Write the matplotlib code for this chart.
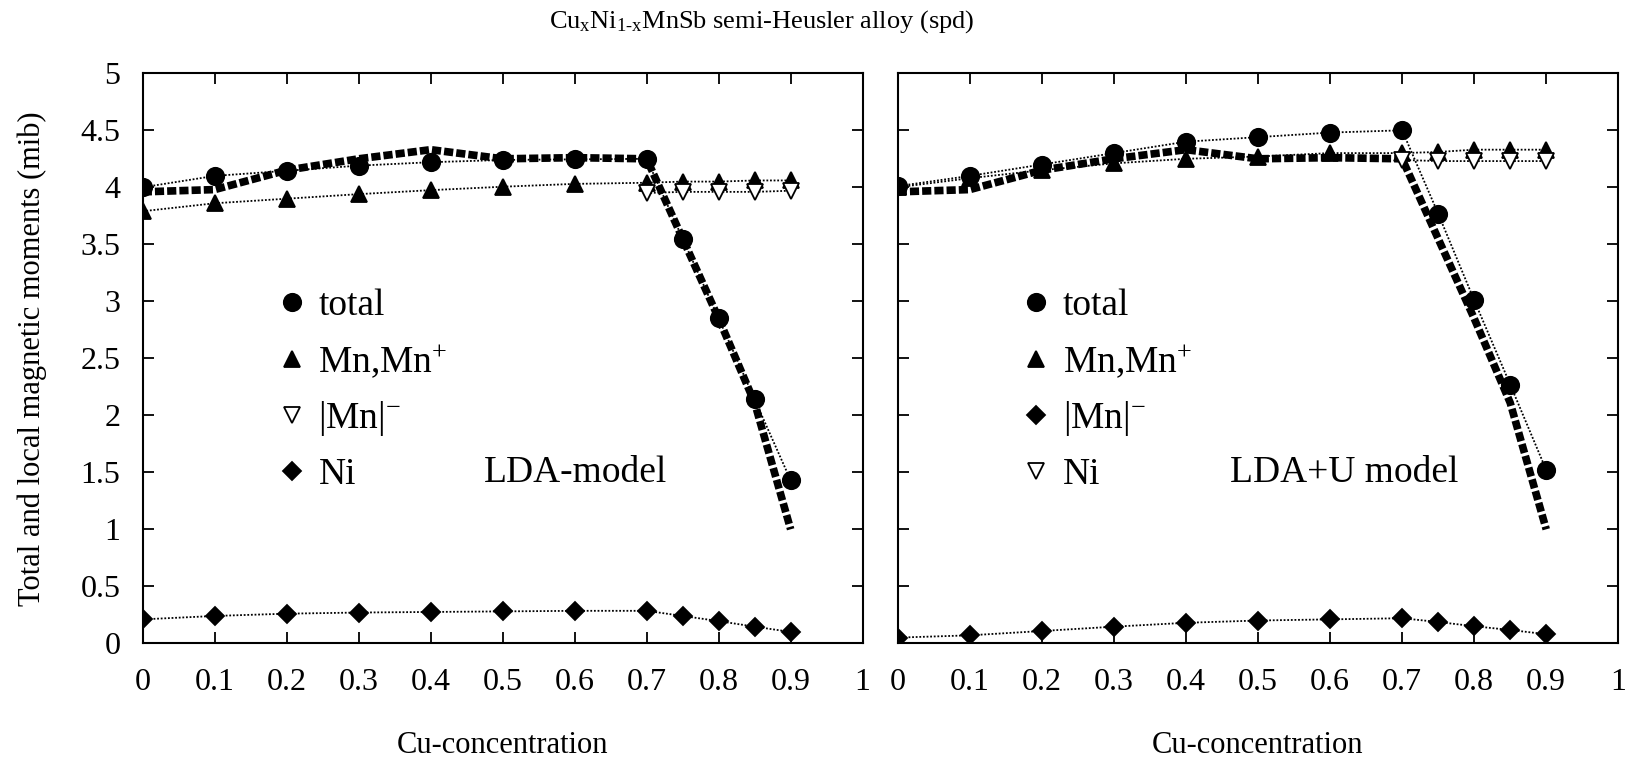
import numpy as np
import matplotlib
matplotlib.use('Agg')
import matplotlib.pyplot as plt

plt.rcParams['font.family'] = ['Liberation Serif', 'DejaVu Serif']
plt.rcParams['mathtext.fontset'] = 'custom'
plt.rcParams['mathtext.rm'] = 'Liberation Serif'
plt.rcParams['mathtext.it'] = 'Liberation Serif:italic'

#
#  Data
#
x = [0, 0.1, 0.2, 0.3, 0.4, 0.5, 0.6, 0.7, 0.75, 0.8, 0.85, 0.9]
x_tail = [0.7, 0.75, 0.8, 0.85, 0.9]

# reference curve (thick dashed), same in both panels
ref_curve = [3.96, 3.98, 4.15, 4.25, 4.33, 4.25, 4.26, 4.25, 3.55, 2.85, 2.11, 1.0]

# LDA model
lda_total = [4.00, 4.10, 4.145, 4.19, 4.22, 4.24, 4.245, 4.25, 3.55, 2.85, 2.14, 1.43]
lda_mn = [3.79, 3.86, 3.90, 3.94, 3.975, 4.005, 4.03, 4.04, 4.05, 4.05, 4.06, 4.06]
lda_mn_neg = [3.95, 3.96, 3.96, 3.96, 3.97]
lda_ni = [0.21, 0.24, 0.26, 0.27, 0.275, 0.28, 0.285, 0.285, 0.24, 0.195, 0.146, 0.10]

# LDA+U model
ldau_total = [4.01, 4.10, 4.20, 4.30, 4.40, 4.44, 4.48, 4.50, 3.77, 3.01, 2.27, 1.52]
ldau_mn = [4.00, 4.08, 4.15, 4.21, 4.25, 4.27, 4.30, 4.30, 4.31, 4.33, 4.33, 4.33]
ldau_ni = [4.24, 4.23, 4.23, 4.23, 4.23]
ldau_mn_neg = [0.05, 0.07, 0.108, 0.146, 0.18, 0.20, 0.21, 0.22, 0.187, 0.15, 0.117, 0.08]

xticks = [0, 0.1, 0.2, 0.3, 0.4, 0.5, 0.6, 0.7, 0.8, 0.9, 1.0]
xtick_labels = ['0', '0.1', '0.2', '0.3', '0.4', '0.5', '0.6', '0.7', '0.8', '0.9', '1']
yticks = [0, 0.5, 1, 1.5, 2, 2.5, 3, 3.5, 4, 4.5, 5]
ytick_labels = ['0', '0.5', '1', '1.5', '2', '2.5', '3', '3.5', '4', '4.5', '5']

dot = (0, (1, 1))
dash = (0, (1.2, 0.4))
ms_c = 12.5
ms_t = 12
ms_d = 9.5


def style_axes(ax, show_ylabels):
    ax.set_xlim(0, 1)
    ax.set_ylim(0, 5)
    ax.set_xticks(xticks)
    ax.set_xticklabels(xtick_labels)
    ax.set_yticks(yticks)
    ax.set_yticklabels(ytick_labels if show_ylabels else [])
    ax.tick_params(direction='in', length=8, width=1.3, top=True, right=True,
                   labelsize=23, pad=18)
    ax.tick_params(axis='y', pad=16)
    for s in ax.spines.values():
        s.set_linewidth(1.5)
    ax.set_xlabel('Cu-concentration', fontsize=22, labelpad=24)


def draw_panel(ax, total, mn, third, third_x, fourth, fourth_x, labels, third_mk, fourth_mk):
    ax.plot(x, ref_curve, color='black', lw=5.5, linestyle=dash, dash_capstyle='butt', zorder=2)

    series = [(x, total, 'o', ms_c, 'black'),
              (x, mn, '^', ms_t, 'black'),
              (third_x, third, third_mk[0], third_mk[1], third_mk[2]),
              (fourth_x, fourth, fourth_mk[0], fourth_mk[1], fourth_mk[2])]

    handles = []
    for (xs, ys, mk, ms, fc), lab in zip(series, labels):
        ax.plot(xs, ys, color='black', lw=1.3, linestyle=dot, zorder=3)
        h, = ax.plot(xs, ys, linestyle='none', marker=mk, markersize=ms,
                     markerfacecolor=fc, markeredgecolor='black', markeredgewidth=1.3,
                     zorder=4, label=lab)
        handles.append(h)
    return handles


fig = plt.figure(figsize=(16.31, 7.58), dpi=100)
ax1 = fig.add_axes([0.0875, 0.1513, 0.4414, 0.752])
ax2 = fig.add_axes([0.5504, 0.1513, 0.4418, 0.752])

legend_labels = ['total', r'Mn,Mn$^{+}$', r'|Mn|$^{-}$', 'Ni']

h1 = draw_panel(ax1, lda_total, lda_mn, lda_mn_neg, x_tail, lda_ni, x, legend_labels,
                ('v', ms_t, 'white'), ('D', ms_d, 'black'))
h2 = draw_panel(ax2, ldau_total, ldau_mn, ldau_mn_neg, x, ldau_ni, x_tail, legend_labels,
                ('D', ms_d, 'black'), ('v', ms_t, 'white'))

style_axes(ax1, True)
style_axes(ax2, False)
ax1.set_ylabel('Total and local magnetic moments (mib)', fontsize=22, labelpad=24)

for ax, hs, xa in [(ax1, h1, 0.192), (ax2, h2, 0.177)]:
    ax.legend(handles=hs, loc='center left', bbox_to_anchor=(xa, 0.444), frameon=False,
              fontsize=27, handlelength=0.6, handletextpad=0.4, labelspacing=0.52,
              borderpad=0, borderaxespad=0)

ax1.text(0.474, 1.5, 'LDA-model', fontsize=27, va='center', ha='left',
         transform=ax1.get_yaxis_transform())
ax2.text(0.461, 1.5, 'LDA+U model', fontsize=27, va='center', ha='left',
         transform=ax2.get_yaxis_transform())

fig.text(0.467, 0.972, r'Cu$_{\mathrm{x}}$Ni$_{\mathrm{1\text{-}x}}$MnSb semi-Heusler alloy (spd)',
         fontsize=19, ha='center', va='center')

fig.savefig('out.png', dpi=100)
